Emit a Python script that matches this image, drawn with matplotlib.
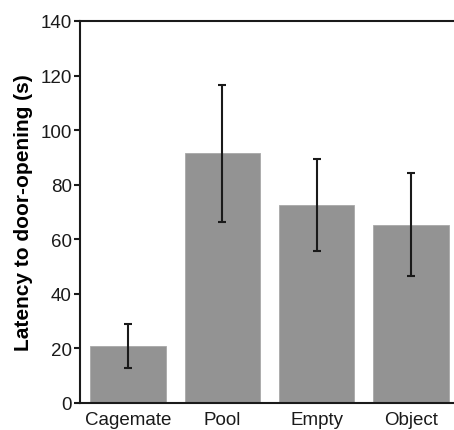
import numpy as np
import matplotlib.pyplot as plt

plt.rcParams['font.family'] = ['Liberation Sans', 'DejaVu Sans']

# data
groups = ['Cagemate', 'Pool', 'Empty', 'Object']
latency = [21.0, 91.5, 72.5, 65.3]
sem = [8.0, 25.2, 16.9, 18.9]

fig = plt.figure(figsize=(4.54, 4.31), dpi=100)
# axes runs off the right edge of the picture, as in the reference
ax = fig.add_axes([80/454, 27/431, 380/454, 382/431])

x = np.arange(len(groups))
ax.bar(x, latency, width=0.8, color='#939393', edgecolor='#a8a8a8', linewidth=0.6)
ax.errorbar(x, latency, yerr=sem, fmt='none', ecolor='#1a1a1a', elinewidth=1.5,
            capsize=2.6, capthick=1.5)

ax.set_xlim(-0.51, 3.52)
ax.set_ylim(0, 140)
ax.set_yticks(range(0, 141, 20))
ax.set_xticks(x)
ax.set_xticklabels(groups)
ax.tick_params(axis='x', length=0, labelsize=13.5, pad=6, colors='#1a1a1a')
ax.tick_params(axis='y', length=4, width=1.5, labelsize=13.5, pad=2, colors='#1a1a1a')
for s in ['left', 'bottom', 'top']:
    ax.spines[s].set_linewidth(1.5)
    ax.spines[s].set_color('#1a1a1a')
ax.spines['right'].set_visible(False)
ax.set_ylabel('Latency to door-opening (s)', fontsize=15, fontweight='bold', labelpad=5)

fig.savefig('out.png', dpi=100)
